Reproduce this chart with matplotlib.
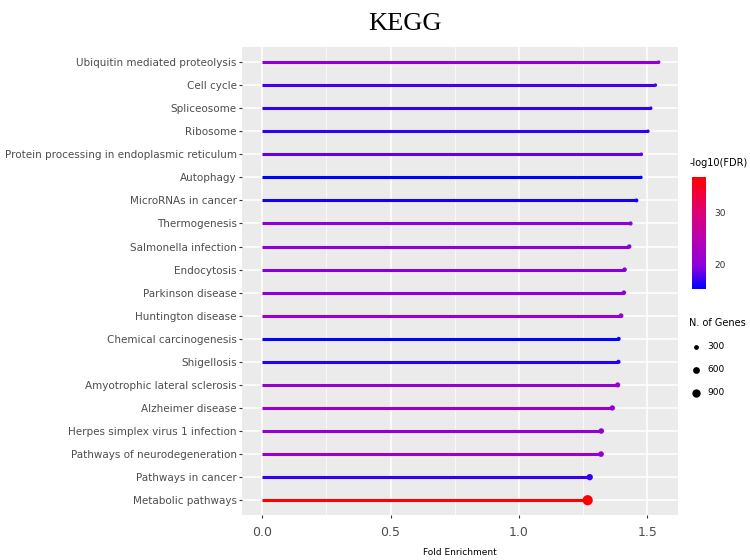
import matplotlib
matplotlib.use("Agg")
import matplotlib.pyplot as plt
import numpy as np
from matplotlib.colors import LinearSegmentedColormap, Normalize

# KEGG pathways, top to bottom as shown
pathways = [
    "Ubiquitin mediated proteolysis", "Cell cycle", "Spliceosome", "Ribosome",
    "Protein processing in endoplasmic reticulum", "Autophagy", "MicroRNAs in cancer",
    "Thermogenesis", "Salmonella infection", "Endocytosis", "Parkinson disease",
    "Huntington disease", "Chemical carcinogenesis", "Shigellosis",
    "Amyotrophic lateral sclerosis", "Alzheimer disease", "Herpes simplex virus 1 infection",
    "Pathways of neurodegeneration", "Pathways in cancer", "Metabolic pathways",
]
fold_enrichment = [1.545, 1.532, 1.514, 1.503, 1.477, 1.476, 1.458, 1.435, 1.430, 1.412,
                   1.409, 1.398, 1.389, 1.388, 1.385, 1.364, 1.321, 1.320, 1.276, 1.268]
neg_log_fdr = [20.0, 17.5, 17.0, 17.0, 18.5, 15.4, 16.0, 20.0, 20.0, 19.5,
               20.0, 21.0, 15.5, 16.5, 21.0, 21.0, 20.5, 21.0, 17.0, 36.7]
n_genes = [140, 150, 150, 150, 170, 140, 200, 230, 250, 250,
           260, 300, 200, 230, 340, 370, 400, 420, 520, 1350]

fdr_ticks = [20, 30]
size_breaks = [300, 600, 900]

cmap = LinearSegmentedColormap.from_list(
    "bluered", [(0, "#0000FF"), (0.2, "#8A00DC"), (0.45, "#B800B0"),
                (0.7, "#E00070"), (1, "#FF0000")])
norm = Normalize(vmin=min(neg_log_fdr), vmax=max(neg_log_fdr))

def msize(n):
    return np.asarray(n) * 0.04

plt.rcParams["font.family"] = "DejaVu Sans"

fig = plt.figure(figsize=(7.5, 5.6), dpi=100)
ax = fig.add_axes([0.323, 0.080, 0.581, 0.836])
ax.set_facecolor("#EBEBEB")

y = np.arange(len(pathways))[::-1]
colors = cmap(norm(neg_log_fdr))
ax.hlines(y, 0, fold_enrichment, colors=colors, linewidth=2.2, zorder=3)
ax.scatter(fold_enrichment, y, s=msize(n_genes), c=colors, zorder=4, linewidths=0)

ax.set_xlim(-0.078, 1.62)
ax.set_ylim(-0.65, len(pathways) - 0.35)
ax.set_xticks([0, 0.5, 1.0, 1.5])
ax.set_xticklabels(["0.0", "0.5", "1.0", "1.5"], fontsize=9, color="#4D4D4D")
ax.set_xticks([0.25, 0.75, 1.25], minor=True)
ax.set_yticks(y)
ax.set_yticklabels(pathways, fontsize=7.45, color="#4D4D4D")
ax.grid(True, which="major", color="white", linewidth=1.1, zorder=0)
ax.grid(True, which="minor", axis="x", color="white", linewidth=0.5, zorder=0)
ax.set_axisbelow(True)
ax.tick_params(which="major", length=2.5, color="#333333", pad=1.5)
ax.tick_params(axis="x", pad=5)
ax.tick_params(which="minor", length=0)
for s in ax.spines.values():
    s.set_visible(False)
ax.set_xlabel("Fold Enrichment", fontsize=6.5, labelpad=7)

fig.text(0.54, 0.947, "KEGG", ha="center", va="baseline", fontsize=19,
         family="Liberation Serif")

# colour bar
cax = fig.add_axes([0.923, 0.484, 0.018, 0.200])
sm = plt.cm.ScalarMappable(norm=norm, cmap=cmap)
cb = fig.colorbar(sm, cax=cax, ticks=fdr_ticks)
cb.outline.set_visible(False)
cb.ax.tick_params(length=3, color="white", labelsize=6.5, labelcolor="#333333", pad=3)
fig.text(0.920, 0.70, "-log10(FDR)", fontsize=7, ha="left", va="bottom")

# size legend
handles = [ax.scatter([], [], s=msize(v), c="black", linewidths=0) for v in size_breaks]
leg = fig.legend(handles, [str(v) for v in size_breaks], title="N. of Genes",
                 loc="upper left", bbox_to_anchor=(0.919, 0.432), frameon=False,
                 prop=dict(size=6.5), handletextpad=0.6, labelspacing=1.55,
                 borderaxespad=0, borderpad=0, alignment="left", handlelength=1.4)
leg.get_title().set_fontsize(7)

fig.savefig("out.png", dpi=100)
